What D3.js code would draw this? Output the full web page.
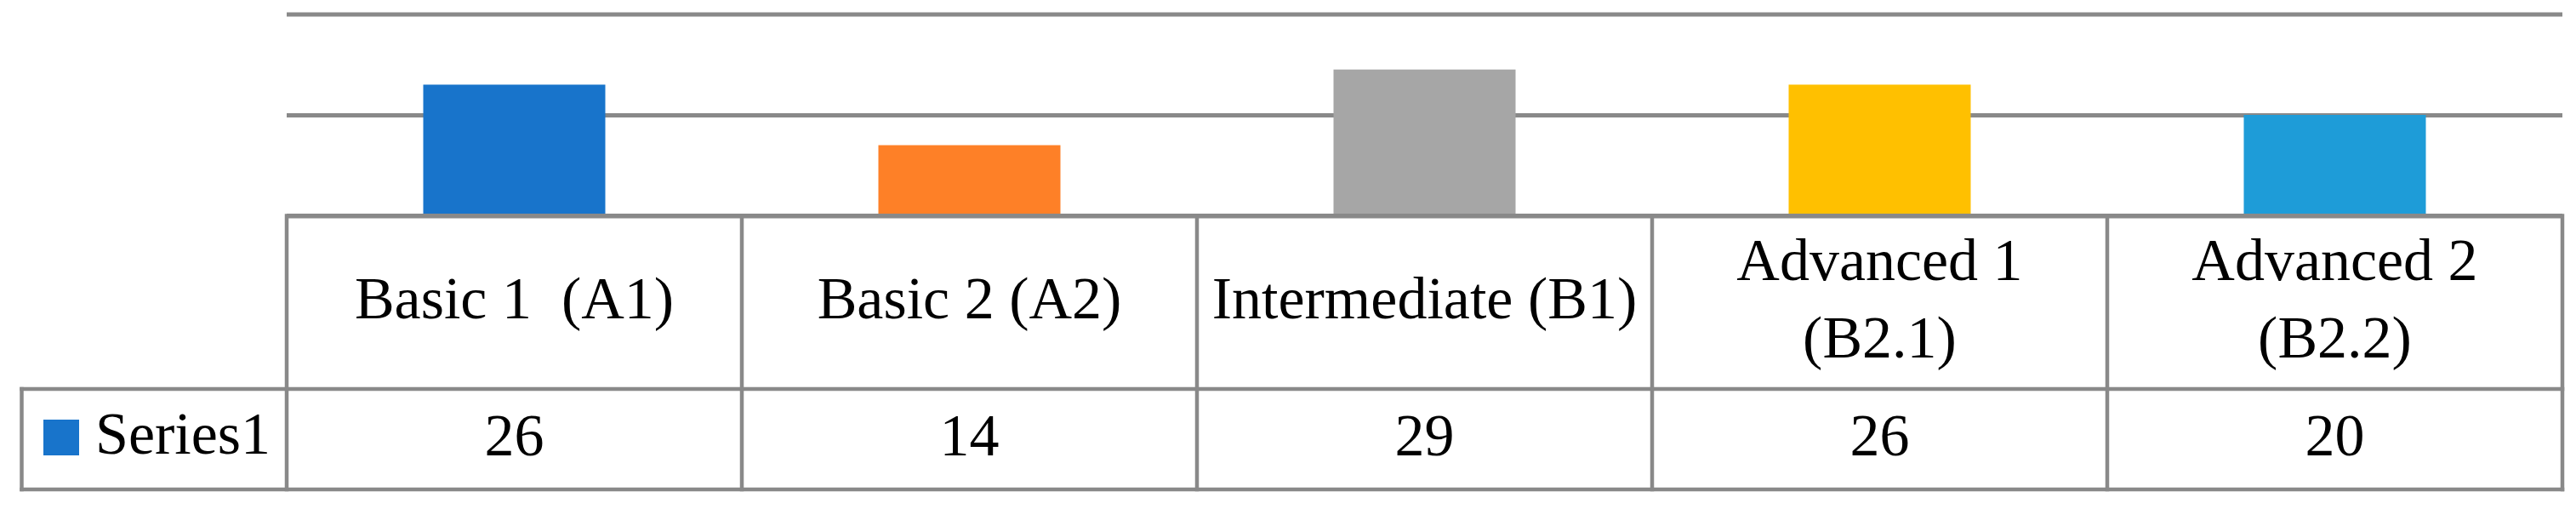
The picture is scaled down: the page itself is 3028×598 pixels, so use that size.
<!DOCTYPE html>
<html><head><meta charset="utf-8">
<script src="https://cdn.jsdelivr.net/npm/d3@7"></script>
<style>html,body{margin:0;padding:0;background:#fff;}svg{display:block;}</style>
</head><body>
<svg id="chart" width="3028" height="598"></svg>
<script>
const categories = ["Basic 1  (A1)", "Basic 2 (A2)", "Intermediate (B1)", "Advanced 1\n(B2.1)", "Advanced 2\n(B2.2)"];
const values = [26, 14, 29, 26, 20];
const barColors = ["#1874CB", "#FE8027", "#A6A6A6", "#FFC000", "#1E9CD8"];
const seriesName = "Series1";
const seriesColor = "#1874CB";
const yTicks = [0, 20, 40];

const W = 3028, H = 598;
const left = 337, right = 3012, legendLeft = 25.5;
const yTop = 16.5, yBase = 253.5, rowDiv = 457, tableBottom = 575;
const gridColor = "#898989";
const font = "'Liberation Serif', 'Times New Roman', serif";

const svg = d3.select("#chart");
const x = d3.scaleBand().domain(categories).range([left, right]).paddingInner(0.6).paddingOuter(0.3);
const xc = d3.scaleBand().domain(categories).range([left, right]);
const y = d3.scaleLinear().domain([0, 40]).range([yBase, yTop]);

// gridlines
const grid = svg.append("g").attr("transform", `translate(${left},0)`)
  .call(d3.axisLeft(y).tickValues(yTicks).tickSize(-(right - left)).tickFormat(""));
grid.select(".domain").remove();
grid.selectAll(".tick line").attr("stroke", gridColor).attr("stroke-width", 5);

// bars
svg.append("g").selectAll("rect").data(values).join("rect")
  .attr("x", (d, i) => x(categories[i]))
  .attr("width", x.bandwidth())
  .attr("y", d => y(d))
  .attr("height", d => y(0) - y(d))
  .attr("fill", (d, i) => barColors[i]);

// table lines
const tbl = svg.append("g").attr("stroke", gridColor).attr("stroke-width", 4.5).attr("fill", "none").attr("stroke-linecap", "square");
tbl.append("line").attr("x1", legendLeft).attr("x2", right).attr("y1", rowDiv).attr("y2", rowDiv);
tbl.append("line").attr("x1", legendLeft).attr("x2", right).attr("y1", tableBottom).attr("y2", tableBottom);
tbl.append("line").attr("x1", legendLeft).attr("x2", legendLeft).attr("y1", rowDiv).attr("y2", tableBottom);
const bounds = categories.map(c => xc(c)).concat([right]);
tbl.selectAll("line.v").data(bounds).join("line").attr("class", "v")
  .attr("x1", d => d).attr("x2", d => d).attr("y1", y(0)).attr("y2", tableBottom);
// baseline
svg.append("line").attr("x1", left).attr("x2", right).attr("y1", y(0)).attr("y2", y(0))
  .attr("stroke", gridColor).attr("stroke-width", 5);

// header labels
const fs = 70, lh = 91, midBase = 374;
const hdr = svg.append("g").attr("font-family", font).attr("font-size", fs).attr("fill", "#000").attr("text-anchor", "middle");
categories.forEach(c => {
  const lines = c.split("\n");
  const t = hdr.append("text").style("white-space", "pre");
  lines.forEach((ln, i) => {
    t.append("tspan").attr("x", xc(c) + xc.bandwidth() / 2)
      .attr("y", midBase + (i - (lines.length - 1) / 2) * lh).text(ln);
  });
});

// values row
svg.append("g").attr("font-family", font).attr("font-size", fs).attr("text-anchor", "middle")
  .selectAll("text").data(values).join("text")
  .attr("x", (d, i) => xc(categories[i]) + xc.bandwidth() / 2)
  .attr("y", 535).text(d => d);

// legend
svg.append("rect").attr("x", 51).attr("y", 493).attr("width", 42).attr("height", 42).attr("fill", seriesColor);
svg.append("text").attr("x", 112).attr("y", 533).attr("font-family", font).attr("font-size", fs).text(seriesName);
</script>
</body></html>
